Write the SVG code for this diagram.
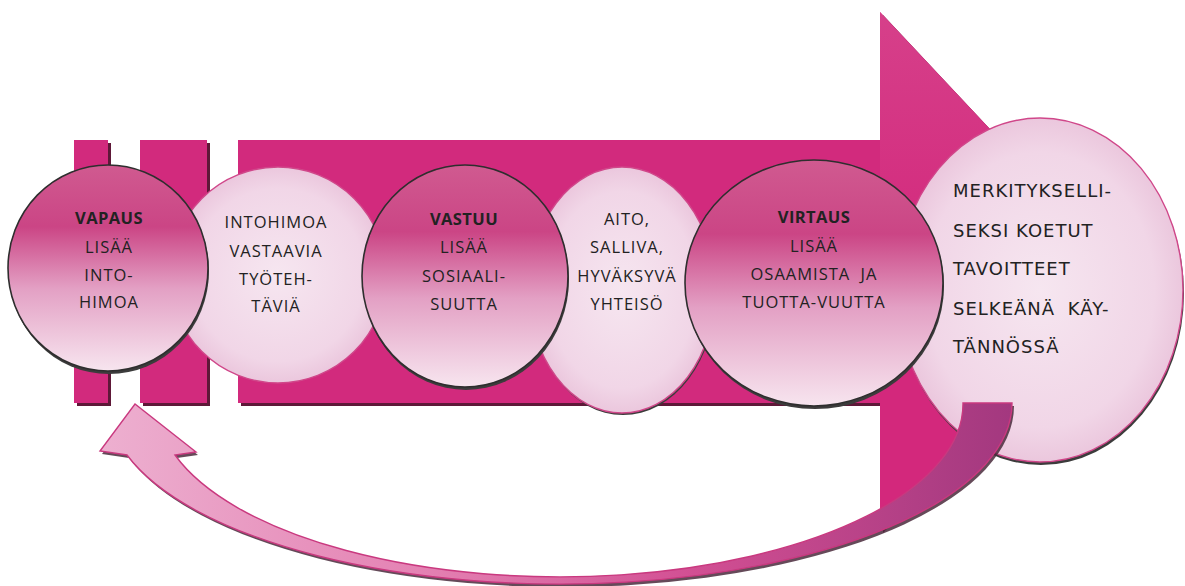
<svg xmlns="http://www.w3.org/2000/svg" width="1185" height="586" viewBox="0 0 1185 586">
<defs>
<linearGradient id="gDark" x1="0" y1="0" x2="0" y2="1">
<stop offset="0" stop-color="#d05a90"/>
<stop offset="0.3" stop-color="#cb4585"/>
<stop offset="0.6" stop-color="#e3a0c4"/>
<stop offset="1" stop-color="#f7e5ef"/>
</linearGradient>
<radialGradient id="gLight" cx="0.5" cy="0.5" r="0.5">
<stop offset="0" stop-color="#f6e6f0"/>
<stop offset="0.8" stop-color="#f1d6e7"/>
<stop offset="1" stop-color="#ebc7dd"/>
</radialGradient>
<linearGradient id="gHead" x1="0" y1="0" x2="0" y2="1">
<stop offset="0" stop-color="#d6408a"/>
<stop offset="0.5" stop-color="#d3287c"/>
<stop offset="1" stop-color="#d3287c"/>
</linearGradient>
<linearGradient id="gCurve" gradientUnits="userSpaceOnUse" x1="100" y1="0" x2="1012" y2="0">
<stop offset="0" stop-color="#edb0d0"/>
<stop offset="0.35" stop-color="#e482b3"/>
<stop offset="0.65" stop-color="#d24f93"/>
<stop offset="1" stop-color="#a3387f"/>
</linearGradient>
<style>
.bar{fill:#d22a7d}
.shadow{fill:#5e1838}
.cshadow{fill:#3c3c3c}
.dark{fill:url(#gDark);stroke:#2e2e2e;stroke-width:1.6}
.light{fill:url(#gLight);stroke:#d0478a;stroke-width:1.4}
.t{font-family:"Open Sans","DejaVu Sans",sans-serif;font-size:16.5px;fill:#222;text-anchor:middle;letter-spacing:1px}
.b{font-weight:bold;letter-spacing:0.4px}
.big{font-family:"DejaVu Sans","Liberation Sans",sans-serif;font-size:18px;fill:#222;letter-spacing:1px}
</style>
</defs>

<g id="main-arrow">
<path class="shadow" d="M241,143 H883 V15 L1126,274 L883,533 V406 H241 Z"/>
<path class="bar" d="M238,140 H880 V12 L1123,271 L880,530 V403 H238 Z"/>
<path fill="url(#gHead)" d="M880,12 L1123,271 L880,530 Z"/>
</g>
<g id="bar1">
<rect class="shadow" x="77" y="143" width="34" height="263"/>
<rect class="bar" x="74" y="140" width="34" height="263"/>
</g>
<g id="bar2">
<rect class="shadow" x="143" y="143" width="67" height="263"/>
<rect class="bar" x="140" y="140" width="67" height="263"/>
</g>

<g id="node-merkityksellinen">
<ellipse class="cshadow" cx="1041" cy="293" rx="143" ry="172"/>
<ellipse class="light" cx="1040" cy="290" rx="143" ry="172" stroke="#c8307a"/>
<text class="big" x="953" y="197">MERKITYKSELLI-</text>
<text class="big" x="953" y="237">SEKSI KOETUT</text>
<text class="big" x="953" y="275">TAVOITTEET</text>
<text class="big" x="953" y="315" word-spacing="6">SELKEÄNÄ KÄY-</text>
<text class="big" x="953" y="353">TÄNNÖSSÄ</text>
</g>

<g id="node-intohimoa">
<circle class="light" cx="278" cy="275" r="108"/>
<text class="t" x="276" y="228">INTOHIMOA</text>
<text class="t" x="276" y="257">VASTAAVIA</text>
<text class="t" x="276" y="285">TYÖTEH-</text>
<text class="t" x="276" y="312">TÄVIÄ</text>
</g>

<g id="node-aito">
<ellipse class="cshadow" cx="623" cy="292" rx="93" ry="123"/>
<ellipse class="light" cx="622" cy="290" rx="93" ry="123"/>
<text class="t" x="627" y="225">AITO,</text>
<text class="t" x="627" y="253">SALLIVA,</text>
<text class="t" x="627" y="282">HYVÄKSYVÄ</text>
<text class="t" x="627" y="310">YHTEISÖ</text>
</g>

<g id="node-vapaus">
<ellipse class="cshadow" cx="109" cy="271" rx="100" ry="103"/>
<ellipse class="dark" cx="108" cy="268" rx="100" ry="103"/>
<text class="t b" x="109" y="224">VAPAUS</text>
<text class="t" x="109" y="253">LISÄÄ</text>
<text class="t" x="109" y="281">INTO-</text>
<text class="t" x="109" y="308">HIMOA</text>
</g>

<g id="node-vastuu">
<ellipse class="cshadow" cx="466" cy="279" rx="103" ry="111"/>
<ellipse class="dark" cx="465" cy="276" rx="103" ry="111"/>
<text class="t b" x="464" y="225">VASTUU</text>
<text class="t" x="464" y="253">LISÄÄ</text>
<text class="t" x="464" y="282">SOSIAALI-</text>
<text class="t" x="464" y="310">SUUTTA</text>
</g>

<g id="node-virtaus">
<ellipse class="cshadow" cx="815" cy="286" rx="129" ry="123"/>
<ellipse class="dark" cx="814" cy="283" rx="129" ry="123"/>
<text class="t b" x="814" y="223">VIRTAUS</text>
<text class="t" x="814" y="252">LISÄÄ</text>
<text class="t" x="814" y="280" word-spacing="5">OSAAMISTA JA</text>
<text class="t" x="814" y="308">TUOTTA-VUUTTA</text>
</g>

<g id="connectors">
<path fill="#4a2a3c" opacity="0.85" transform="translate(2,3)" d="M1012,403 A452,181 0 0 1 127,455 L100,451 L135,404 L196,452 L175,455 A403,173 0 0 0 963,403 Z"/>
<path fill="url(#gCurve)" stroke="#c9397f" stroke-width="1.4" d="M1012,403 A452,181 0 0 1 127,455 L100,451 L135,404 L196,452 L175,455 A403,173 0 0 0 963,403 Z"/>
</g>
</svg>
